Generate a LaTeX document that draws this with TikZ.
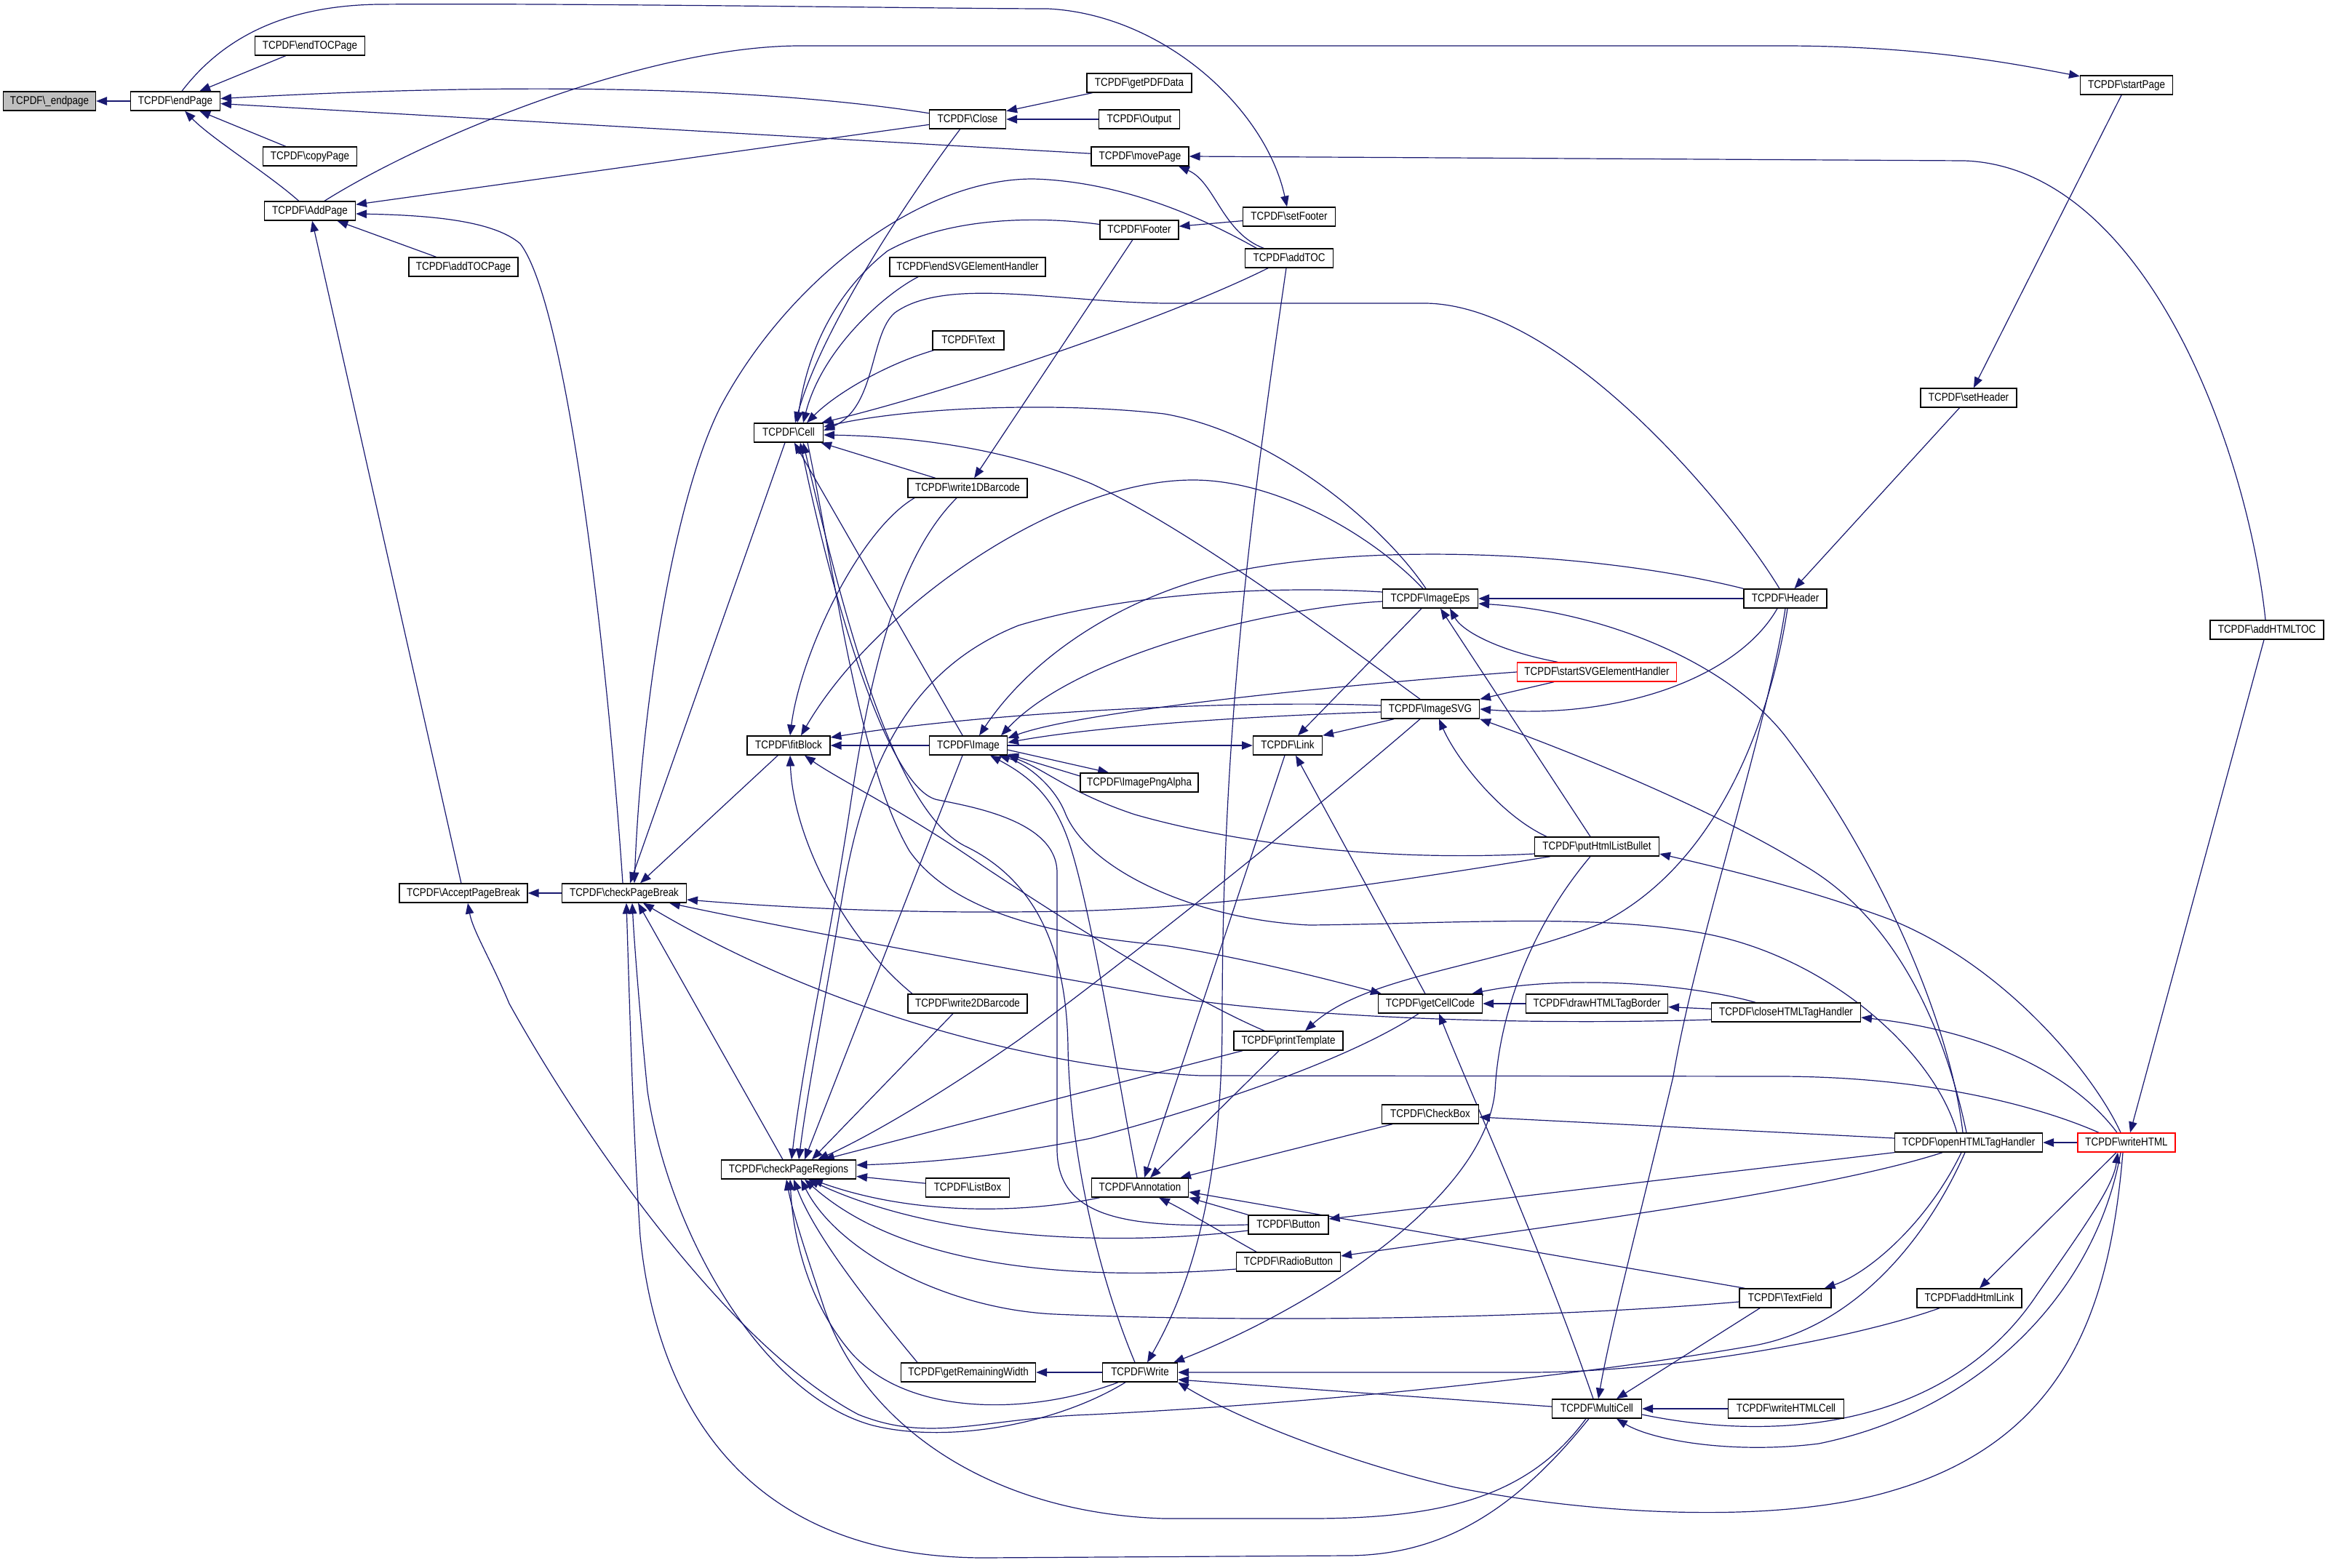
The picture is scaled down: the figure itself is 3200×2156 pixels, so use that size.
\documentclass[tikz,border=0pt]{standalone}
\usepackage{fontspec}
\newfontfamily\nf[FakeStretch=0.86]{Liberation Sans}
\usetikzlibrary{arrows.meta,calc}
\definecolor{edgec}{HTML}{191970}
\definecolor{rootc}{HTML}{BFBFBF}
\pgfdeclarelayer{bg}
\pgfsetlayers{bg,main}
\begin{document}
\begin{tikzpicture}[x=0.5pt,y=-0.5pt,
  nd/.style={draw=black,line width=0.7pt,fill=white,rectangle,minimum height=13pt,inner sep=0pt,text height=5.6pt,text depth=1.1pt,font=\nf\fontsize{7.8pt}{9pt}\selectfont},
  edg/.style={draw=edgec,line width=0.6pt,-{Triangle[length=7.4pt,width=5.7pt]}}]
\useasboundingbox (0,0) rectangle (3200,2156);
\begin{pgfonlayer}{bg}
\fill[white] (0,0) rectangle (3200,2156);
\end{pgfonlayer}
% nodes
\node[nd,fill=rootc,minimum width=63.5pt] (ep) at (68,139) {TCPDF\textbackslash\_endpage};
\node[nd,minimum width=61.5pt] (EP) at (241,139) {TCPDF\textbackslash endPage};
\node[nd,minimum width=75.5pt] (eTOC) at (426,63) {TCPDF\textbackslash endTOCPage};
\node[nd,minimum width=64.5pt] (cP) at (426,215) {TCPDF\textbackslash copyPage};
\node[nd,minimum width=62.5pt] (AP) at (426,290) {TCPDF\textbackslash AddPage};
\node[nd,minimum width=75pt] (aTOCP) at (637,367) {TCPDF\textbackslash addTOCPage};
\node[nd,minimum width=52.5pt] (Cl) at (1330,164) {TCPDF\textbackslash Close};
\node[nd,minimum width=72pt] (gPDF) at (1566,114) {TCPDF\textbackslash getPDFData};
\node[nd,minimum width=55.5pt] (Out) at (1566,164) {TCPDF\textbackslash Output};
\node[nd,minimum width=67pt] (mP) at (1567,215) {TCPDF\textbackslash movePage};
\node[nd,minimum width=54pt] (Ft) at (1566,316) {TCPDF\textbackslash Footer};
\node[nd,minimum width=107pt] (eSVG) at (1330,367) {TCPDF\textbackslash endSVGElementHandler};
\node[nd,minimum width=49pt] (Tx) at (1331,468) {TCPDF\textbackslash Text};
\node[nd,minimum width=47.5pt] (Ce) at (1084,595) {TCPDF\textbackslash Cell};
\node[nd,minimum width=82pt] (w1D) at (1330,671) {TCPDF\textbackslash write1DBarcode};
\node[nd,minimum width=63.5pt] (sF) at (1772,298) {TCPDF\textbackslash setFooter};
\node[nd,minimum width=60.5pt] (aTOC) at (1772,355) {TCPDF\textbackslash addTOC};
\node[nd,minimum width=63.5pt] (sP) at (2923,117) {TCPDF\textbackslash startPage};
\node[nd,minimum width=66pt] (sH) at (2706,547) {TCPDF\textbackslash setHeader};
\node[nd,minimum width=88pt] (APB) at (637,1228) {TCPDF\textbackslash AcceptPageBreak};
\node[nd,minimum width=85.5pt] (cPB) at (858,1228) {TCPDF\textbackslash checkPageBreak};
\node[nd,minimum width=57pt] (fB) at (1084,1025) {TCPDF\textbackslash fitBlock};
\node[nd,minimum width=53.5pt] (Im) at (1331,1025) {TCPDF\textbackslash Image};
\node[nd,minimum width=81pt] (IPA) at (1566,1076) {TCPDF\textbackslash ImagePngAlpha};
\node[nd,minimum width=82pt] (w2D) at (1330,1380) {TCPDF\textbackslash write2DBarcode};
\node[nd,minimum width=65.5pt] (IE) at (1966,823) {TCPDF\textbackslash ImageEps};
\node[nd,draw=red,minimum width=109.5pt] (sSVG) at (2195,924) {TCPDF\textbackslash startSVGElementHandler};
\node[nd,minimum width=67.5pt] (IS) at (1966,975) {TCPDF\textbackslash ImageSVG};
\node[nd,minimum width=47.5pt] (Lk) at (1770,1025) {TCPDF\textbackslash Link};
\node[nd,minimum width=85.5pt] (pHLB) at (2195,1164) {TCPDF\textbackslash putHtmlListBullet};
\node[nd,minimum width=71.5pt] (gCC) at (1966,1380) {TCPDF\textbackslash getCellCode};
\node[nd,minimum width=97.5pt] (dHTB) at (2195,1380) {TCPDF\textbackslash drawHTMLTagBorder};
\node[nd,minimum width=102.5pt] (cHTH) at (2455,1392) {TCPDF\textbackslash closeHTMLTagHandler};
\node[nd,minimum width=75pt] (pT) at (1771,1431) {TCPDF\textbackslash printTemplate};
\node[nd,minimum width=57pt] (Hd) at (2454,823) {TCPDF\textbackslash Header};
\node[nd,minimum width=78pt] (aHTOC) at (3116,866) {TCPDF\textbackslash addHTMLTOC};
\node[nd,minimum width=92.5pt] (cPR) at (1084,1608) {TCPDF\textbackslash checkPageRegions};
\node[nd,minimum width=57.5pt] (LB) at (1330,1633) {TCPDF\textbackslash ListBox};
\node[nd,minimum width=66.5pt] (An) at (1567,1633) {TCPDF\textbackslash Annotation};
\node[nd,minimum width=92.5pt] (gRW) at (1331,1887) {TCPDF\textbackslash getRemainingWidth};
\node[nd,minimum width=51.5pt] (Wr) at (1567,1887) {TCPDF\textbackslash Write};
\node[nd,minimum width=66.5pt] (CB) at (1966,1532) {TCPDF\textbackslash CheckBox};
\node[nd,minimum width=55pt] (Bt) at (1771,1684) {TCPDF\textbackslash Button};
\node[nd,minimum width=71.5pt] (RB) at (1771,1735) {TCPDF\textbackslash RadioButton};
\node[nd,minimum width=61.5pt] (MC) at (2195,1937) {TCPDF\textbackslash MultiCell};
\node[nd,minimum width=63pt] (TF) at (2454,1785) {TCPDF\textbackslash TextField};
\node[nd,minimum width=79.5pt] (wHC) at (2455,1937) {TCPDF\textbackslash writeHTMLCell};
\node[nd,minimum width=101.5pt] (oHTH) at (2706,1571) {TCPDF\textbackslash openHTMLTagHandler};
\node[nd,draw=red,minimum width=67pt] (wH) at (2923,1571) {TCPDF\textbackslash writeHTML};
\node[nd,minimum width=72pt] (aHL) at (2707,1785) {TCPDF\textbackslash addHtmlLink};
% edges
\begin{pgfonlayer}{bg}
\draw[edg] (EP) -- (ep);
\draw[edg] (eTOC) -- (EP);
\draw[edg] (cP) -- (EP);
\draw[edg] (AP) .. controls (370,240) and (290,190) .. (EP);
\draw[edg] (Cl) .. controls (1100,128) and (800,108) .. (EP);
\draw[edg] (mP) -- (EP);
\draw[edg] ($(EP.north)+(9,0)$) .. controls (300,60) and (380,8) .. (520,6) .. controls (800,4) and (1300,12) .. (1440,12) .. controls (1600,20) and (1740,150) .. (sF);
\draw[edg] (Cl) -- (AP);
\draw[edg] ($(cPB.north)+(-2,0)$) .. controls (835,900) and (780,420) .. (715,335) .. controls (680,305) and (600,296) .. ($(AP.east)+(0,4)$);
\draw[edg] (APB) -- (AP);
\draw[edg] (aTOCP) -- (AP);
\draw[edg] ($(AP.north)+(20,0)$) .. controls (600,180) and (900,63) .. (1100,63) -- (2450,63) .. controls (2650,63) and (2780,90) .. (sP);
\draw[edg] (gPDF) -- (Cl);
\draw[edg] (Out) -- (Cl);
\draw[edg] (Cl) .. controls (1250,270) and (1130,450) .. ($(Ce.north)+(9,0)$);
\draw[edg] (aTOC.163) .. controls (1680,315) and (1560,250) .. (1420,246) .. controls (1260,246) and (1080,390) .. (990,560) .. controls (920,700) and (880,1000) .. ($(cPB.north)+(14,0)$);
\draw[edg] (Ft) .. controls (1420,296) and (1300,300) .. (1220,345) .. controls (1150,400) and (1110,480) .. ($(Ce.north)+(12,0)$);
\draw[edg] ($(eSVG.south)+(-68,0)$) .. controls (1215,405) and (1130,480) .. ($(Ce.north)+(20,0)$);
\draw[edg] (Tx) .. controls (1220,500) and (1150,540) .. ($(Ce.north)+(25,0)$);
\draw[edg] ($(Hd.north)+(-8,0)$) .. controls (2380,700) and (2150,420) .. (1960,417) -- (1600,417) .. controls (1450,415) and (1300,380) .. (1230,430) .. controls (1195,460) and (1205,560) .. ($(Ce.east)+(0,-3)$);
\draw[edg] ($(aTOC.south)+(-29,0)$) .. controls (1600,440) and (1300,540) .. ($(Ce.north east)+(-3,0)$);
\draw[edg] ($(IE.north)+(-6,0)$) .. controls (1900,720) and (1750,595) .. (1600,569) .. controls (1450,552) and (1250,560) .. ($(Ce.east)+(0,-8)$);
\draw[edg] ($(IS.north)+(-14,0)$) .. controls (1800,850) and (1620,720) .. (1500,665) .. controls (1380,615) and (1250,600) .. ($(Ce.east)+(0,3)$);
\draw[edg] (w1D) -- (Ce);
\draw[edg] (Ft) -- (w1D);
\draw[edg] ($(w1D.south)+(-73,0)$) .. controls (1180,730) and (1100,900) .. ($(fB.north)+(2,0)$);
\draw[edg] ($(w1D.south)+(-15,0)$) .. controls (1240,760) and (1200,900) .. (1170,1100) .. controls (1140,1300) and (1105,1450) .. ($(cPR.north)+(4,0)$);
\draw[edg] ($(Ce.south)+(-5,0)$) -- ($(cPB.north)+(8,0)$);
\draw[edg] (Bt.west) .. controls (1560,1688) and (1453,1680) .. (1453,1580) -- (1453,1200) .. controls (1453,1130) and (1340,1110) .. (1290,1100) .. controls (1225,1090) and (1150,850) .. ($(Ce.south)+(16,0)$);
\draw[edg] ($(Wr.north)+(-7,0)$) .. controls (1500,1730) and (1470,1560) .. (1468,1440) .. controls (1466,1300) and (1420,1210) .. (1330,1165) .. controls (1230,1120) and (1160,850) .. ($(Ce.south)+(20,0)$);
\draw[edg] (Im) -- (Ce);
\draw[edg] ($(Ce.south)+(26,0)$) .. controls (1150,800) and (1180,1050) .. (1250,1170) .. controls (1320,1270) and (1500,1290) .. (1600,1300) .. controls (1700,1315) and (1820,1345) .. ($(gCC.north west)+(5,0)$);
\draw[edg] (fB) -- ($(cPB.north)+(22,0)$);
\draw[edg] (Im) -- (fB);
\draw[edg] ($(IE.north)+(-10,0)$) .. controls (1880,730) and (1750,660) .. (1640,660) .. controls (1450,660) and (1200,840) .. ($(fB.north)+(17,0)$);
\draw[edg] ($(IS.west)+(0,-5)$) .. controls (1700,962) and (1350,980) .. ($(fB.east)+(0,-11)$);
\draw[edg] (sSVG.west) .. controls (1800,945) and (1480,980) .. ($(Im.east)+(0,-10)$);
\draw[edg] ($(IS.west)+(0,4)$) .. controls (1700,985) and (1500,1000) .. ($(Im.east)+(0,-4)$);
\draw[edg] (Im) -- (Lk);
\draw[edg] ($(Im.east)+(0,6)$) -- ($(IPA.north)+(-42,0)$);
\draw[edg] ($(IPA.west)+(0,-9)$) -- ($(Im.east)+(0,12)$);
\draw[edg] (Hd.north west) .. controls (2200,760) and (1900,745) .. (1700,785) .. controls (1550,815) and (1420,900) .. ($(Im.north)+(15,0)$);
\draw[edg] ($(IE.west)+(0,4)$) .. controls (1750,835) and (1480,900) .. ($(Im.north)+(45,0)$);
\draw[edg] ($(IE.west)+(0,-9)$) .. controls (1750,805) and (1550,815) .. (1400,860) .. controls (1250,920) and (1190,1050) .. (1160,1220) .. controls (1130,1400) and (1110,1500) .. ($(cPR.north)+(14,0)$);
\draw[edg] ($(IE.south)+(-12,0)$) -- ($(Lk.north)+(14,0)$);
\draw[edg] ($(IS.south)+(-50,0)$) -- (Lk.north east);
\draw[edg] ($(gCC.north)+(-7,0)$) -- ($(Lk.south)+(11,0)$);
\draw[edg] ($(Lk.south)+(-4,0)$) -- ($(An.north)+(6,0)$);
\draw[edg] ($(pT.south)+(-13,0)$) -- ($(An.north)+(14,0)$);
\draw[edg] ($(An.north)+(-4,0)$) .. controls (1540,1500) and (1500,1250) .. (1470,1160) .. controls (1450,1100) and (1420,1070) .. ($(Im.south)+(30,0)$);
\draw[edg] ($(pHLB.west)+(0,10)$) .. controls (1900,1185) and (1700,1160) .. (1560,1120) .. controls (1470,1090) and (1440,1060) .. (Im.south east);
\draw[edg] ($(oHTH.north)+(-16,0)$) .. controls (2660,1450) and (2520,1320) .. (2350,1285) .. controls (2200,1255) and (2000,1270) .. (1800,1272) .. controls (1650,1265) and (1500,1200) .. (1465,1120) .. controls (1450,1080) and (1410,1050) .. ($(Im.south)+(42,0)$);
\draw[edg] (Hd) -- (IE);
\draw[edg] ($(sSVG.north)+(-54,0)$) .. controls (2060,895) and (2010,868) .. ($(IE.south)+(27,0)$);
\draw[edg] ($(pHLB.north)+(-9,0)$) -- ($(IE.south)+(14,0)$);
\draw[edg] ($(oHTH.north)+(-8,0)$) .. controls (2680,1400) and (2580,1180) .. (2460,1020) .. controls (2380,910) and (2200,840) .. ($(IE.east)+(0,7)$);
\draw[edg] ($(Hd.south)+(-11,0)$) .. controls (2390,930) and (2230,990) .. (IS.east);
\draw[edg] ($(sSVG.south)+(-59,0)$) -- (IS.north east);
\draw[edg] ($(pHLB.north)+(-69,0)$) .. controls (2060,1120) and (2000,1040) .. ($(IS.south)+(12,0)$);
\draw[edg] ($(oHTH.north)+(-3,0)$) .. controls (2670,1400) and (2600,1260) .. (2480,1190) .. controls (2350,1110) and (2150,1030) .. (IS.south east);
\draw[edg] ($(Hd.south)+(3,0)$) .. controls (2440,950) and (2380,1180) .. (2200,1270) .. controls (2050,1330) and (1880,1340) .. ($(pT.north)+(23,0)$);
\draw[edg] (Hd.south) .. controls (2430,1000) and (2330,1300) .. (2300,1480) .. controls (2260,1650) and (2215,1820) .. ($(MC.north)+(2,0)$);
\draw[edg] (sP) -- (sH);
\draw[edg] (sH) -- (Hd);
\draw[edg] ($(aHTOC.north)+(-2,0)$) .. controls (3090,620) and (2950,230) .. (2700,221) -- (mP.east);
\draw[edg] ($(aHTOC.south)+(-4,0)$) -- ($(wH.north)+(5,0)$);
\draw[edg] ($(aTOC.north)+(-35,0)$) .. controls (1680,320) and (1670,250) .. ($(mP.south)+(53,0)$);
\draw[edg] (sF) -- (Ft);
\draw[edg] ($(aTOC.south)+(-4,0)$) .. controls (1720,700) and (1680,1000) .. (1680,1400) .. controls (1680,1650) and (1630,1780) .. ($(Wr.north)+(10,0)$);
\draw[edg] (cPB) -- (APB);
\draw[edg] ($(pHLB.south)+(-64,0)$) .. controls (1900,1215) and (1700,1245) .. (1500,1252) .. controls (1300,1258) and (1100,1250) .. ($(cPB.east)+(0,9)$);
\draw[edg] ($(cHTH.west)+(0,10)$) .. controls (2100,1410) and (1800,1400) .. (1600,1370) .. controls (1400,1335) and (1100,1280) .. ($(cPB.south)+(62,0)$);
\draw[edg] ($(wH.north)+(-38,0)$) .. controls (2800,1520) and (2650,1481) .. (2450,1480) -- (1650,1479) .. controls (1450,1470) and (1150,1400) .. ($(cPB.south)+(26,0)$);
\draw[edg] ($(MC.south)+(-11,0)$) .. controls (2080,2080) and (1980,2139) .. (1850,2139) -- (1350,2142) .. controls (1000,2140) and (900,1900) .. (880,1700) .. controls (870,1550) and (866,1400) .. ($(cPB.south)+(3,0)$);
\draw[edg] ($(cPR.north)+(-8,0)$) -- ($(cPB.south)+(19,0)$);
\draw[edg] ($(Wr.south)+(-20,0)$) .. controls (1450,1960) and (1300,1985) .. (1200,1960) .. controls (1050,1920) and (920,1700) .. (890,1500) .. controls (880,1400) and (872,1300) .. ($(cPB.south)+(11,0)$);
\draw[edg] ($(oHTH.south)+(-5,0)$) .. controls (2650,1700) and (2550,1830) .. (2400,1852) .. controls (2150,1895) and (1800,1930) .. (1500,1945) .. controls (1350,1950) and (1280,1985) .. (1180,1945) .. controls (1000,1850) and (800,1560) .. (700,1380) .. controls (675,1320) and (650,1280) .. ($(APB.south)+(6,0)$);
\draw[edg] ($(Im.south)+(-8,0)$) -- ($(cPR.north)+(22,0)$);
\draw[edg] ($(w2D.south)+(-20,0)$) -- ($(cPR.north)+(32,0)$);
\draw[edg] ($(IS.south)+(-14,0)$) .. controls (1800,1120) and (1550,1320) .. (1400,1430) .. controls (1300,1500) and (1200,1560) .. ($(cPR.north)+(40,0)$);
\draw[edg] ($(pT.south)+(-63,0)$) -- ($(cPR.north)+(48,0)$);
\draw[edg] ($(gCC.south)+(-16,0)$) .. controls (1850,1460) and (1650,1525) .. (1500,1565) .. controls (1400,1585) and (1300,1598) .. ($(cPR.east)+(0,-6)$);
\draw[edg] (LB) -- (cPR);
\draw[edg] ($(An.south west)+(12,0)$) .. controls (1400,1670) and (1250,1670) .. ($(cPR.south)+(32,0)$);
\draw[edg] ($(Bt.west)+(0,8)$) .. controls (1550,1712) and (1300,1710) .. ($(cPR.south)+(27,0)$);
\draw[edg] ($(RB.west)+(0,10)$) .. controls (1500,1760) and (1250,1750) .. ($(cPR.south)+(22,0)$);
\draw[edg] ($(TF.west)+(0,5)$) .. controls (2100,1815) and (1700,1818) .. (1450,1807) .. controls (1300,1800) and (1150,1720) .. ($(cPR.south)+(17,0)$);
\draw[edg] ($(gRW.north)+(-70,0)$) .. controls (1200,1800) and (1120,1700) .. ($(cPR.south)+(7,0)$);
\draw[edg] ($(Wr.south)+(-30,0)$) .. controls (1420,1945) and (1250,1950) .. (1170,1860) .. controls (1110,1790) and (1090,1700) .. ($(cPR.south)+(2,0)$);
\draw[edg] ($(MC.south)+(-15,0)$) .. controls (2100,2060) and (1980,2088) .. (1800,2088) -- (1600,2088) .. controls (1350,2080) and (1180,1950) .. (1130,1790) .. controls (1100,1700) and (1088,1660) .. ($(cPR.south)+(-3,0)$);
\draw[edg] ($(TF.north west)+(8,0)$) -- ($(An.east)+(0,6)$);
\draw[edg] ($(CB.south)+(-52,0)$) -- ($(An.north east)+(-12,0)$);
\draw[edg] (Bt.north west) -- (An.south east);
\draw[edg] ($(RB.north)+(-44,0)$) .. controls (1680,1695) and (1630,1665) .. ($(An.south)+(26,0)$);
\draw[edg] (oHTH.south west) -- ($(Bt.east)+(0,-8)$);
\draw[edg] ($(oHTH.south)+(-36,0)$) .. controls (2500,1640) and (2100,1690) .. ($(RB.east)+(0,-8)$);
\draw[edg] ($(oHTH.west)+(0,-6)$) -- ($(CB.east)+(0,4)$);
\draw[edg] ($(oHTH.south)+(-10,0)$) .. controls (2650,1680) and (2570,1750) .. ($(TF.north east)+(-10,0)$);
\draw[edg] ($(pHLB.south)+(-9,0)$) .. controls (2100,1280) and (2060,1400) .. (2055,1500) .. controls (2040,1650) and (1800,1800) .. ($(Wr.north east)+(-6,0)$);
\draw[edg] ($(aHL.south)+(-41,0)$) .. controls (2550,1840) and (2300,1887) .. (2100,1887) -- (Wr.east);
\draw[edg] ($(MC.west)+(0,-3)$) -- ($(Wr.east)+(0,10)$);
\draw[edg] ($(wH.south)+(-5,0)$) .. controls (2900,1800) and (2840,1980) .. (2600,2050) .. controls (2450,2095) and (2200,2085) .. (2000,2045) .. controls (1850,2010) and (1700,1950) .. (Wr.south east);
\draw[edg] (Wr) -- (gRW);
\draw[edg] ($(TF.south)+(-35,0)$) -- ($(MC.north)+(27,0)$);
\draw[edg] (wHC) -- (MC);
\draw[edg] ($(wH.south)+(-8,0)$) .. controls (2880,1780) and (2720,1940) .. (2500,1985) .. controls (2380,2000) and (2270,1980) .. ($(MC.south)+(27,0)$);
\draw[edg] ($(MC.east)+(0,8)$) .. controls (2450,1985) and (2680,1960) .. (2800,1780) .. controls (2870,1680) and (2905,1630) .. ($(wH.south)+(-12,0)$);
\draw[edg] ($(wH.south)+(-14,0)$) -- ($(aHL.north)+(14,0)$);
\draw[edg] (wH) -- (oHTH);
\draw[edg] ($(wH.north)+(-8,0)$) .. controls (2880,1480) and (2760,1330) .. (2600,1265) .. controls (2480,1220) and (2350,1190) .. ($(pHLB.east)+(0,10)$);
\draw[edg] ($(wH.north)+(-13,0)$) .. controls (2860,1490) and (2750,1420) .. ($(cHTH.east)+(0,7)$);
\draw[edg] ($(cHTH.north)+(-42,0)$) .. controls (2320,1352) and (2150,1340) .. ($(gCC.north east)+(-15,0)$);
\draw[edg] (cHTH) -- (dHTB);
\draw[edg] (dHTB) -- (gCC);
\draw[edg] ($(MC.north)+(-5,0)$) .. controls (2120,1720) and (2020,1500) .. ($(gCC.south)+(12,0)$);
\draw[edg] ($(pT.north)+(-33,0)$) .. controls (1650,1380) and (1500,1290) .. (1350,1190) .. controls (1250,1120) and (1150,1070) .. ($(fB.south)+(22,0)$);
\draw[edg] ($(w2D.north)+(-76,0)$) .. controls (1160,1290) and (1090,1150) .. ($(fB.south)+(2,0)$);
\end{pgfonlayer}
\end{tikzpicture}
\end{document}
